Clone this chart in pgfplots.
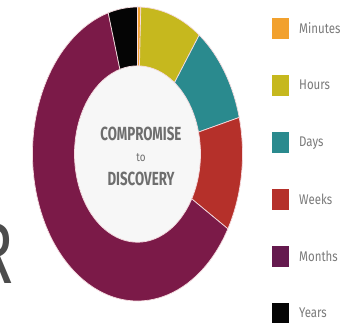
\documentclass[border=0pt]{standalone}
\usepackage{fontspec}
\setmainfont{Fira Sans}
\newfontfamily\legfont[FakeStretch=0.82]{Fira Sans}
\newfontfamily\centfont[FakeStretch=0.7]{Fira Sans}
\newfontfamily\bigfont[FakeStretch=0.7]{Fira Sans}
\usepackage{pgfplots}
\usepackage{pgfplotstable}
\pgfplotsset{compat=1.18}

\definecolor{seg0}{HTML}{F2A12E}
\definecolor{seg1}{HTML}{C6B81E}
\definecolor{seg2}{HTML}{2A8A8E}
\definecolor{seg3}{HTML}{B5302A}
\definecolor{seg4}{HTML}{7B1A48}
\definecolor{seg5}{HTML}{050505}
\definecolor{legmonths}{HTML}{651A4E}
\definecolor{segline}{HTML}{F6DCE0}
\definecolor{txt}{HTML}{6E6E6E}
\definecolor{legtxt}{HTML}{7A7A7A}
\definecolor{holefill}{HTML}{F7F7F7}

\pgfplotstableread{
label value
Minutes 0.5
Hours 9.5
Days 11
Weeks 12.5
Months 62
Years 4.5
}\datatable

\begin{document}
\begin{tikzpicture}
\path[use as bounding box] (0pt,0pt) rectangle (354pt,322pt);
\clip (0pt,0pt) rectangle (354pt,322pt);
\fill[white] (0pt,0pt) rectangle (354pt,322pt);
\node[anchor=base east, inner sep=0pt, text=gray!60!black, font=\bigfont\fontsize{87}{87}\selectfont] at (14pt,39pt) {R};
\begin{axis}[
  at={(32.5pt,21pt)}, anchor=south west,
  scale only axis, width=210pt, height=294pt,
  xmin=-1, xmax=1, ymin=-1, ymax=1,
  hide axis, clip=false,
  legend style={at={(axis description cs:1.1405,0.963)}, anchor=north west,
    draw=none, fill=none, inner sep=0pt, row sep=36pt, column sep=8pt,
    font=\legfont\fontsize{14}{16}\selectfont, text=legtxt,
    cells={anchor=west}},
  legend image code/.code={\fill[#1] (0pt,-10.5pt) rectangle (17pt,10.5pt);},
]
\fill[holefill] (axis cs:0,0) circle[radius=0.6];
\def\cum{0}
\pgfplotsinvokeforeach{0,...,5}{
  \pgfplotstablegetelem{#1}{value}\of\datatable
  \pgfmathsetmacro\sa{90-3.6*\cum}
  \pgfmathsetmacro\newcum{\cum+\pgfplotsretval}
  \pgfmathsetmacro\sb{90-3.6*\newcum}
  \pgfmathsetmacro\xa{cos(\sa)}
  \pgfmathsetmacro\ya{sin(\sa)}
  \pgfmathsetmacro\xb{0.6*cos(\sb)}
  \pgfmathsetmacro\yb{0.6*sin(\sb)}
  \edef\doit{\noexpand\fill[fill=seg#1, draw=segline, line width=0.7pt] (axis cs:\xa,\ya) arc[start angle=\sa, end angle=\sb, radius=1] -- (axis cs:\xb,\yb) arc[start angle=\sb, end angle=\sa, radius=0.6] -- cycle;}
  \doit
  \xdef\cum{\newcum}
}
\node[anchor=base, inner sep=0pt, text=txt, font=\centfont\bfseries\fontsize{19}{21}\selectfont] at (axis cs:0.033,0.095) {COMPROMISE};
\node[anchor=base, inner sep=0pt, text=txt, font=\legfont\fontsize{12}{14}\selectfont] at (axis cs:0.033,-0.054) {to};
\node[anchor=base, inner sep=0pt, text=txt, font=\centfont\bfseries\fontsize{19}{21}\selectfont] at (axis cs:0.033,-0.211) {DISCOVERY};
\addlegendimage{fill=seg0, draw=none}
\addlegendentry{Minutes}
\addlegendimage{fill=seg1, draw=none}
\addlegendentry{Hours}
\addlegendimage{fill=seg2, draw=none}
\addlegendentry{Days}
\addlegendimage{fill=seg3, draw=none}
\addlegendentry{Weeks}
\addlegendimage{fill=legmonths, draw=none}
\addlegendentry{Months}
\addlegendimage{fill=seg5, draw=none}
\addlegendentry{Years}
\end{axis}
\end{tikzpicture}
\end{document}
